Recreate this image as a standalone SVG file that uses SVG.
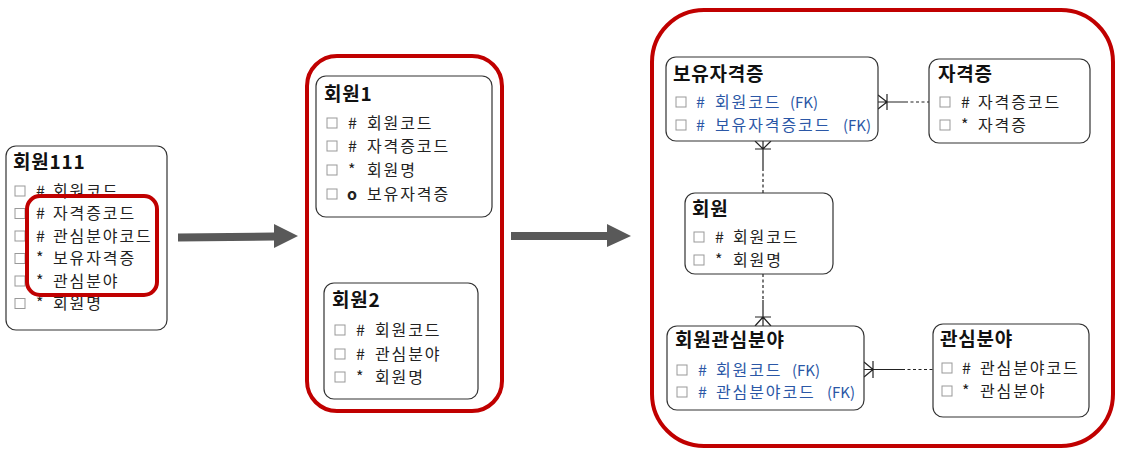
<svg xmlns="http://www.w3.org/2000/svg" width="1123" height="454" viewBox="0 0 1123 454">
<style>
text{font-family:"Noto Sans CJK KR","Noto Sans",sans-serif;fill:#222}
.t{font-size:19px;font-weight:700;fill:#111;letter-spacing:0.8px}
.r{font-size:16px;letter-spacing:1.9px}
.fk{fill:#2B57A6}
.fks{font-size:15px;letter-spacing:0}
.box{fill:#fff;stroke:#333;stroke-width:1.2}
.cb{fill:#fff;stroke:#999;stroke-width:1}
.red{fill:none;stroke:#C00000;stroke-width:4}
.ln{stroke:#222;stroke-width:1.2;fill:none}
.dt{stroke:#222;stroke-width:1.2;fill:none;stroke-dasharray:3 2.5}
.arw{fill:#595959}
</style>
<defs>
<rect id="cbx" class="cb" width="10" height="10"/>
</defs>

<g id="member111">
<rect class="box" x="6" y="146" width="161" height="184" rx="10"/>
<text class="t" x="13" y="169">회원111</text>
<use href="#cbx" x="15" y="186"/><text class="r" y="196.5"><tspan x="36">#</tspan><tspan x="53">회원코드</tspan></text>
<use href="#cbx" x="15" y="208.5"/><text class="r" y="219"><tspan x="36">#</tspan><tspan x="53">자격증코드</tspan></text>
<use href="#cbx" x="15" y="231"/><text class="r" y="241.5"><tspan x="36">#</tspan><tspan x="53">관심분야코드</tspan></text>
<use href="#cbx" x="15" y="253.5"/><text class="r" y="264"><tspan x="36">*</tspan><tspan x="53">보유자격증</tspan></text>
<use href="#cbx" x="15" y="276"/><text class="r" y="286.5"><tspan x="36">*</tspan><tspan x="53">관심분야</tspan></text>
<use href="#cbx" x="15" y="298.5"/><text class="r" y="309"><tspan x="36">*</tspan><tspan x="53">회원명</tspan></text>
<rect class="red" x="27" y="196" width="130" height="99" rx="13"/>
</g>

<g id="arrows">
<polygon class="arw" points="178,233.5 274,232.5 274,224 298,236 274,248 274,240.5 178,241.5"/>
<polygon class="arw" points="511,232 607,232 607,224 631,236 607,247 607,240 511,240"/>
</g>

<g id="group-mid">
<rect class="red" x="307" y="56" width="195" height="355" rx="30"/>
</g>

<g id="member1">
<rect class="box" x="316" y="76" width="176" height="141" rx="10"/>
<text class="t" x="324" y="101">회원1</text>
<use href="#cbx" x="327" y="118"/><text class="r" y="129"><tspan x="348">#</tspan><tspan x="367">회원코드</tspan></text>
<use href="#cbx" x="327" y="141"/><text class="r" y="152"><tspan x="348">#</tspan><tspan x="367">자격증코드</tspan></text>
<use href="#cbx" x="327" y="165"/><text class="r" y="176"><tspan x="348">*</tspan><tspan x="367">회원명</tspan></text>
<use href="#cbx" x="327" y="189"/><text class="r" y="200"><tspan x="347" font-weight="700">o</tspan><tspan x="367">보유자격증</tspan></text>
</g>

<g id="member2">
<rect class="box" x="324" y="283" width="154" height="116" rx="10"/>
<text class="t" x="332" y="307">회원2</text>
<use href="#cbx" x="335" y="325"/><text class="r" y="336"><tspan x="356">#</tspan><tspan x="375">회원코드</tspan></text>
<use href="#cbx" x="335" y="349"/><text class="r" y="360"><tspan x="356">#</tspan><tspan x="375">관심분야</tspan></text>
<use href="#cbx" x="335" y="372"/><text class="r" y="383"><tspan x="356">*</tspan><tspan x="375">회원명</tspan></text>
</g>

<g id="group-right">
<rect class="red" x="652" y="10" width="461" height="436" rx="52"/>
</g>

<g id="connectors">
<path class="ln" d="M878,95 L887,102 L878,109 M887,94 V110 M878,102 H905"/>
<path class="dt" d="M905,102 H929"/>
<path class="ln" d="M755,141 L763,149 L771,141 M755,149 H771 M763,141 V168"/>
<path class="dt" d="M763,168 V193"/>
<path class="dt" d="M763,274 V300"/>
<path class="ln" d="M763,300 V326 M755,326 L763,317 L771,326 M755,317 H771"/>
<path class="ln" d="M864,362 L873,369.5 L864,377 M873,361 V378 M864,369.5 H902"/>
<path class="dt" d="M902,369.5 H933"/>
</g>

<g id="holding-cert">
<rect class="box" x="666" y="57" width="212" height="84" rx="10"/>
<text class="t" x="673" y="81">보유자격증</text>
<use href="#cbx" x="676" y="97"/><text class="r fk" y="108"><tspan x="696">#</tspan><tspan x="715">회원코드</tspan><tspan class="fks" x="790">(FK)</tspan></text>
<use href="#cbx" x="676" y="120"/><text class="r fk" y="131"><tspan x="696">#</tspan><tspan x="715">보유자격증코드</tspan><tspan class="fks" x="843">(FK)</tspan></text>
</g>

<g id="cert">
<rect class="box" x="929" y="59" width="161" height="84" rx="10"/>
<text class="t" x="938" y="81">자격증</text>
<use href="#cbx" x="940" y="97"/><text class="r" y="108"><tspan x="961">#</tspan><tspan x="978">자격증코드</tspan></text>
<use href="#cbx" x="940" y="120"/><text class="r" y="131"><tspan x="961">*</tspan><tspan x="978">자격증</tspan></text>
</g>

<g id="member">
<rect class="box" x="685" y="193" width="148" height="81" rx="10"/>
<text class="t" x="692" y="216">회원</text>
<use href="#cbx" x="694" y="232"/><text class="r" y="243"><tspan x="715">#</tspan><tspan x="733">회원코드</tspan></text>
<use href="#cbx" x="694" y="255"/><text class="r" y="266"><tspan x="715">*</tspan><tspan x="733">회원명</tspan></text>
</g>

<g id="member-interest">
<rect class="box" x="667" y="326" width="197" height="84" rx="10"/>
<text class="t" x="675" y="347">회원관심분야</text>
<use href="#cbx" x="677" y="365"/><text class="r fk" y="376"><tspan x="698">#</tspan><tspan x="716">회원코드</tspan><tspan class="fks" x="792">(FK)</tspan></text>
<use href="#cbx" x="677" y="387"/><text class="r fk" y="398"><tspan x="698">#</tspan><tspan x="716">관심분야코드</tspan><tspan class="fks" x="827">(FK)</tspan></text>
</g>

<g id="interest">
<rect class="box" x="933" y="324" width="156" height="93" rx="10"/>
<text class="t" x="940" y="346">관심분야</text>
<use href="#cbx" x="942" y="363"/><text class="r" y="374"><tspan x="962">#</tspan><tspan x="980">관심분야코드</tspan></text>
<use href="#cbx" x="942" y="386"/><text class="r" y="397"><tspan x="962">*</tspan><tspan x="980">관심분야</tspan></text>
</g>
</svg>
